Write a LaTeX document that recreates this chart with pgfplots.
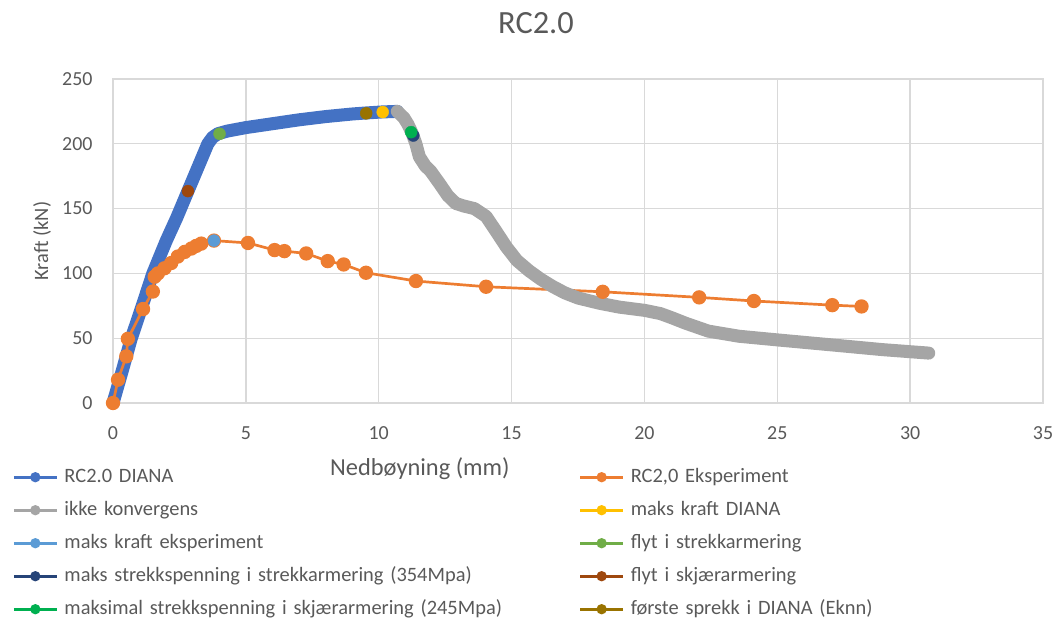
\documentclass[border=0pt]{standalone}
\usepackage{fontspec}
\setmainfont{Carlito}
\usepackage{pgfplots}
\pgfplotsset{compat=1.18}
\definecolor{cblue}{HTML}{4472C4}
\definecolor{corange}{HTML}{ED7D31}
\definecolor{cgrey}{HTML}{A5A5A5}
\definecolor{cgold}{HTML}{FFC000}
\definecolor{clblue}{HTML}{5B9BD5}
\definecolor{cgreen}{HTML}{70AD47}
\definecolor{cnavy}{HTML}{264478}
\definecolor{cbrown}{HTML}{9E480E}
\definecolor{cbgreen}{HTML}{00B050}
\definecolor{cdgold}{HTML}{997300}
\definecolor{gridc}{HTML}{D9D9D9}
\definecolor{textc}{HTML}{595959}
\begin{document}
\begin{tikzpicture}
\useasboundingbox (-113bp,-218bp) rectangle (946bp,403bp);
\begin{axis}[
  at={(0,0)}, anchor=south west,
  width=930bp, height=324bp, scale only axis,
  xmin=0, xmax=35, ymin=0, ymax=250,
  xtick={0,5,...,35}, ytick={0,50,...,250},
  grid=major, grid style={draw=gridc, line width=1.3bp},
  axis line style={draw=gridc, line width=1.3bp},
  major tick length=0pt, tick style={draw=none},
  clip=false,
  /pgf/number format/assume math mode=true,
  every tick label/.append style={font=\fontsize{20}{24}\selectfont, text=textc},
  yticklabel style={xshift=-17bp},
  xticklabel style={yshift=-20bp},
  title={RC2.0},
  title style={at={(axis description cs:0.4548,1)}, anchor=center, yshift=50bp, font=\fontsize{32.5}{38}\selectfont, text=textc},
  xlabel={Nedbøyning (mm)},
  xlabel style={at={([yshift=-66bp]axis description cs:0.33,0)}, anchor=center, font=\fontsize{24.5}{29}\selectfont, text=textc},
  ylabel={Kraft (kN)},
  ylabel style={at={([xshift=-71bp]axis description cs:0,0.5)}, anchor=center, font=\fontsize{20.5}{24}\selectfont, text=textc},
  legend columns=2,
  legend cell align=left,
  legend image code/.code={
    \pgfsetlinewidth{3.3bp}
    \draw[line cap=butt] (0bp,0bp) -- (43bp,0bp);
    \path[fill, draw=none] (21.5bp,0bp) circle (5.2bp);
  },
  legend style={at={([xshift=-101bp, yshift=-63bp]axis description cs:0,0)}, anchor=north west,
    draw=none, fill=none, inner sep=0pt, row sep=11bp, column sep=0bp,
    font=\fontsize{20.5}{24}\selectfont, text=textc,
    nodes={inner ysep=2bp, inner xsep=6bp, text height=14bp, text depth=4bp, text width=508bp}},
  every mark/.append style={line width=0.3bp},
]
\addplot[color=cblue, line width=13bp, line join=round, line cap=round, mark=none] coordinates {
(0,0) (0.35,25) (0.69,50) (1.1,75) (1.5,100) (2.0,125) (2.4,143) (2.82,163.5) (3.2,182) (3.57,200) (3.75,205) (3.95,207.8) (4.3,209.8) (5,212.5) (6,215.5) (7,218.5) (8,221) (9,223) (9.53,223.8) (10.15,224.6) (10.7,225)
};
\addlegendentry{RC2.0 DIANA}
\addplot[color=corange, line width=2.7bp, mark=*, mark size=5.8bp] coordinates {
(0,0) (0.19,18) (0.5,36) (0.56,49.5) (1.13,72.5) (1.5,86) (1.57,97.5) (1.69,100) (1.94,104) (2.19,108) (2.44,113) (2.7,116.6) (2.95,119.2) (3.13,121.2) (3.32,123) (3.8,125.3) (5.08,123.5) (6.08,118) (6.45,117.2) (7.27,115.4) (8.08,109.5) (8.68,106.9) (9.52,100.5) (11.4,94.1) (14.04,89.7) (18.43,85.8) (22.06,81.5) (24.12,78.7) (27.07,75.5) (28.17,74.5)
};
\addlegendentry{RC2,0 Eksperiment}
\addplot[color=cgrey, line width=13bp, line join=round, line cap=round, mark=none] coordinates {
(10.7,225) (10.95,220) (11.1,215) (11.25,208.5) (11.4,200) (11.53,190) (11.75,183) (11.95,179) (12.3,169) (12.6,160) (12.9,154) (13.2,152) (13.6,150) (14.04,144) (14.4,133) (14.8,120.5) (15.2,110) (15.66,102) (16.1,95.5) (16.54,90) (17.0,85) (17.5,81) (18.3,77) (19.05,74) (20,71.5) (20.6,69) (21.0,66) (21.56,61.5) (22.4,55.5) (23.56,51.5) (25,48.7) (27.07,44.8) (28.95,41.2) (30.7,38.5)
};
\addlegendentry{ikke konvergens}
\addplot[color=cgold, mark=*, mark size=6bp] coordinates {(10.15,224.5)};
\addlegendentry{maks kraft DIANA}
\addplot[color=clblue, mark=*, mark size=6bp] coordinates {(3.8,125.3)};
\addlegendentry{maks kraft eksperiment}
\addplot[color=cgreen, mark=*, mark size=6bp] coordinates {(4.01,207.7)};
\addlegendentry{flyt i strekkarmering}
\addplot[color=cnavy, mark=*, mark size=6bp] coordinates {(11.3,206.4)};
\addlegendentry{maks strekkspenning i strekkarmering (354Mpa)}
\addplot[color=cbrown, mark=*, mark size=6bp] coordinates {(2.82,163.5)};
\addlegendentry{flyt i skjærarmering}
\addplot[color=cbgreen, mark=*, mark size=6bp] coordinates {(11.22,209)};
\addlegendentry{maksimal strekkspenning i skjærarmering (245Mpa)}
\addplot[color=cdgold, mark=*, mark size=6bp] coordinates {(9.53,223.5)};
\addlegendentry{første sprekk i DIANA (Eknn)}
\end{axis}
\end{tikzpicture}
\end{document}
